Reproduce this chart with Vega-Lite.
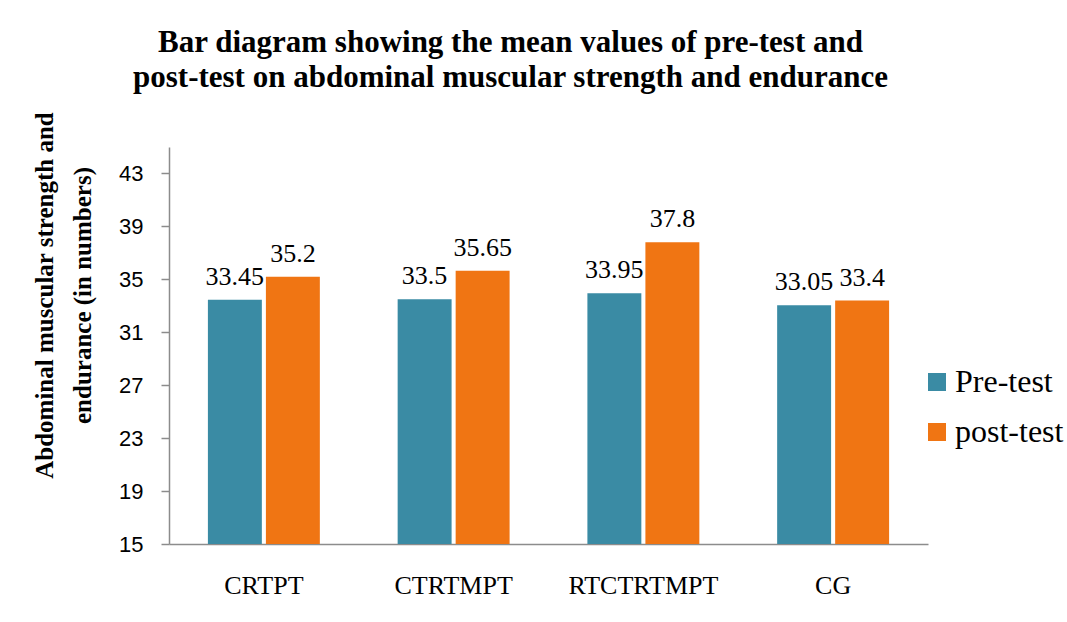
{
  "$schema": "https://vega.github.io/schema/vega-lite/v6.json",
  "width": 759,
  "height": 397,
  "autosize": {"type": "none"},
  "padding": {"left": 169, "top": 147, "right": 139, "bottom": 78},
  "background": "white",
  "title": {
    "text": ["Bar diagram showing the mean values of pre-test and", "post-test on abdominal muscular strength and endurance"],
    "font": "Liberation Serif",
    "fontSize": 31,
    "fontWeight": "bold",
    "color": "black",
    "anchor": "middle",
    "frame": "group",
    "dx": -38,
    "offset": 18,
    "lineHeight": 35
  },
  "data": {
    "values": [
      {"group": "CRTPT", "test": "Pre-test", "value": 33.45},
      {"group": "CRTPT", "test": "post-test", "value": 35.2},
      {"group": "CTRTMPT", "test": "Pre-test", "value": 33.5},
      {"group": "CTRTMPT", "test": "post-test", "value": 35.65},
      {"group": "RTCTRTMPT", "test": "Pre-test", "value": 33.95},
      {"group": "RTCTRTMPT", "test": "post-test", "value": 37.8},
      {"group": "CG", "test": "Pre-test", "value": 33.05},
      {"group": "CG", "test": "post-test", "value": 33.4}
    ]
  },
  "encoding": {
    "x": {
      "field": "group",
      "type": "nominal",
      "sort": ["CRTPT", "CTRTMPT", "RTCTRTMPT", "CG"],
      "scale": {"paddingInner": 0.41, "paddingOuter": 0.205},
      "axis": {
        "title": null,
        "labelAngle": 0,
        "labelFont": "Liberation Serif",
        "labelFontSize": 26,
        "labelColor": "black",
        "labelPadding": 28,
        "ticks": false,
        "domainColor": "#8c8c8c",
        "domainWidth": 1.5
      }
    },
    "xOffset": {
      "field": "test",
      "type": "nominal",
      "sort": ["Pre-test", "post-test"],
      "scale": {"paddingInner": 0.07, "paddingOuter": 0}
    },
    "y": {
      "field": "value",
      "type": "quantitative",
      "scale": {"domain": [15, 45], "nice": false, "zero": false},
      "axis": {
        "values": [15, 19, 23, 27, 31, 35, 39, 43],
        "grid": false,
        "labelFont": "Liberation Sans",
        "labelFontSize": 22,
        "labelColor": "black",
        "labelPadding": 18,
        "tickSize": 8,
        "tickColor": "#8c8c8c",
        "tickWidth": 1.5,
        "domainColor": "#8c8c8c",
        "domainWidth": 1.5,
        "title": ["Abdominal muscular strength and", "endurance (in numbers)"],
        "titleFont": "Liberation Serif",
        "titleFontSize": 25,
        "titleFontWeight": "bold",
        "titleColor": "black",
        "titleAngle": -90,
        "titleAlign": "center",
        "titleBaseline": "top",
        "titleX": -137,
        "titleY": 148,
        "titleLineHeight": 38
      }
    }
  },
  "layer": [
    {
      "mark": {"type": "bar", "clip": true},
      "encoding": {
        "color": {
          "field": "test",
          "type": "nominal",
          "scale": {"domain": ["Pre-test", "post-test"], "range": ["#3A8BA4", "#F07513"]},
          "legend": {
            "title": null,
            "orient": "none",
            "legendX": 752,
            "legendY": 219,
            "symbolType": "square",
            "symbolSize": 324,
            "symbolStrokeWidth": 0,
            "labelFont": "Liberation Serif",
            "labelFontSize": 32,
            "labelColor": "black",
            "rowPadding": 18,
            "labelOffset": 2
          }
        }
      }
    },
    {
      "mark": {"type": "text", "font": "Liberation Serif", "fontSize": 26, "color": "black", "baseline": "alphabetic", "dy": -15},
      "encoding": {
        "text": {"field": "value", "type": "quantitative", "format": ""}
      }
    }
  ],
  "config": {"view": {"stroke": null}}
}
